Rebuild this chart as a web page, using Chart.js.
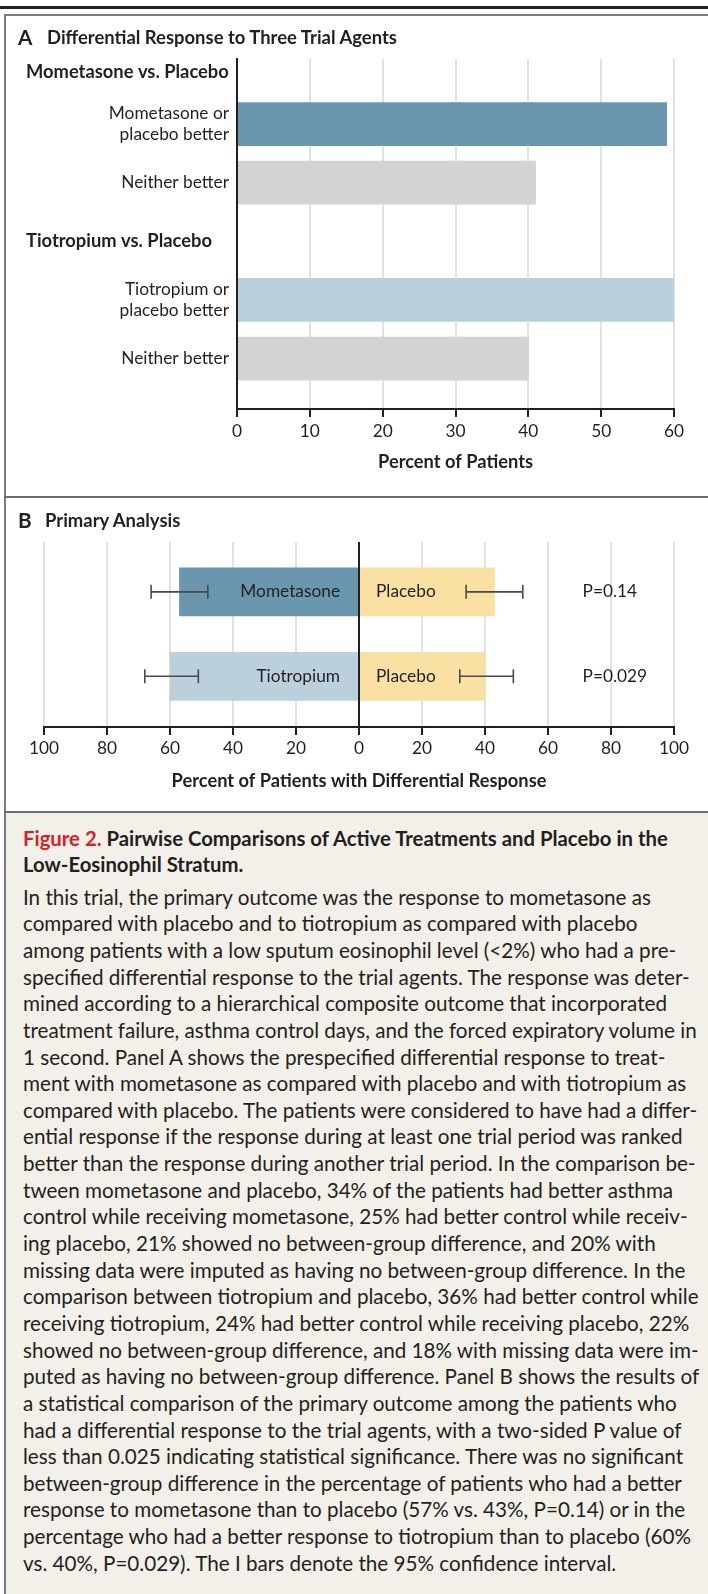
<!DOCTYPE html>
<html><head><meta charset="utf-8">
<script src="https://cdn.jsdelivr.net/npm/chart.js@4.4.1/dist/chart.umd.min.js"></script>
<style>
html,body{margin:0;padding:0;background:#fff;}
body{width:708px;height:1594px;position:relative;overflow:hidden;color:#231f20;}
.abs{position:absolute;}
.line{position:absolute;white-space:pre;font-variant-ligatures:no-common-ligatures;}
</style>
</head><body>
<div class="abs" style="left:6px;top:813px;width:702px;height:781px;background:#f3f0ea;"></div>
<div class="abs" style="left:0;top:0;width:708px;height:496px;"><canvas id="cA" width="708" height="496"></canvas></div>
<div class="abs" style="left:0;top:497px;width:708px;height:315px;"><canvas id="cB" width="708" height="315"></canvas></div>
<div class="abs" style="left:0;top:6px;width:708px;height:3px;background:#231f20;"></div>
<div class="abs" style="left:4px;top:14px;width:704px;height:2px;background:#7b7b7b;"></div>
<div class="abs" style="left:4px;top:14px;width:2px;height:1580px;background:#7b7b7b;"></div>
<div class="abs" style="left:4px;top:496px;width:704px;height:2px;background:#6d6d6d;"></div>
<div class="abs" style="left:4px;top:811px;width:704px;height:2px;background:#6d6d6d;"></div>
<div id="titleA"></div>
<div id="titleB"></div>
<div id="caption"></div>
<script>
// ---------- DATA ----------
const panelTitleA = 'Differential Response to Three Trial Agents';
const panelTitleB = 'Primary Analysis';
const categoriesA = [['Mometasone vs. Placebo'], ['Mometasone or', 'placebo better'], ['Neither better'],
                     ['Tiotropium vs. Placebo'], ['Tiotropium or', 'placebo better'], ['Neither better']];
const valuesA = [null, 59, 41, null, 60, 40];
const xTicksA = [0, 10, 20, 30, 40, 50, 60];
const axisTitleA = 'Percent of Patients';

const activeNamesB = ['Mometasone', 'Tiotropium'];
const controlNameB = 'Placebo';
const activePctB = [57, 60];
const placeboPctB = [43, 40];
const activeCIB = [[48, 66], [51, 68]];
const placeboCIB = [[34, 52], [32, 49]];
const pValuesB = ['P=0.14', 'P=0.029'];
const xTicksB = [-100, -80, -60, -40, -20, 0, 20, 40, 60, 80, 100];
const axisTitleB = 'Percent of Patients with Differential Response';

const captionHead = ['Pairwise Comparisons of Active Treatments and Placebo in the', 'Low-Eosinophil Stratum.'];
const captionLabel = 'Figure 2.';
const captionBody = [
'In this trial, the primary outcome was the response to mometasone as',
'compared with placebo and to tiotropium as compared with placebo',
'among patients with a low sputum eosinophil level (<2%) who had a pre-',
'specified differential response to the trial agents. The response was deter-',
'mined according to a hierarchical composite outcome that incorporated',
'treatment failure, asthma control days, and the forced expiratory volume in',
'1 second. Panel A shows the prespecified differential response to treat-',
'ment with mometasone as compared with placebo and with tiotropium as',
'compared with placebo. The patients were considered to have had a differ-',
'ential response if the response during at least one trial period was ranked',
'better than the response during another trial period. In the comparison be-',
'tween mometasone and placebo, 34% of the patients had better asthma',
'control while receiving mometasone, 25% had better control while receiv-',
'ing placebo, 21% showed no between-group difference, and 20% with',
'missing data were imputed as having no between-group difference. In the',
'comparison between tiotropium and placebo, 36% had better control while',
'receiving tiotropium, 24% had better control while receiving placebo, 22%',
'showed no between-group difference, and 18% with missing data were im-',
'puted as having no between-group difference. Panel B shows the results of',
'a statistical comparison of the primary outcome among the patients who',
'had a differential response to the trial agents, with a two-sided P value of',
'less than 0.025 indicating statistical significance. There was no significant',
'between-group difference in the percentage of patients who had a better',
'response to mometasone than to placebo (57% vs. 43%, P=0.14) or in the',
'percentage who had a better response to tiotropium than to placebo (60%',
'vs. 40%, P=0.029). The I bars denote the 95% confidence interval.'
];

// ---------- STYLE ----------
const FAM = 'Lato, "Liberation Sans", sans-serif';
const INK = '#231f20';
const GRID = '#e2e2e2';
const barColorA = {1: '#6a97ad', 2: '#d1d3d4', 4: '#bccfdc', 5: '#d1d3d4'};
const activeColorB = ['#6a97ad', '#bccfdc'];
const placeboColorB = '#f9e0a3';

const mctx = document.createElement('canvas').getContext('2d');
function fit(text, weight, target) {
  mctx.font = weight + ' 100px ' + FAM;
  return 100 * target / mctx.measureText(text).width;
}
const tickSize = (fit('Mometasone or', 'normal', 122) + fit('Neither better', 'normal', 105) + fit('Mometasone', 'normal', 101)) / 3;
const headSize = fit('Mometasone vs. Placebo', 'bold', 203);
const axisTitleSize = (fit(axisTitleB, 'bold', 380) + fit(axisTitleA, 'bold', 153)) / 2;
const panelTitleSize = fit(panelTitleA, 'bold', 352);
const bodySize = fit(captionBody[5], 'normal', 675);
const capHeadSize = fit(captionLabel + ' ' + captionHead[0], 'bold', 647);

// titles
function panelTitle(el, letter, text, cy) {
  el.innerHTML = '';
  const a = document.createElement('div');
  a.className = 'line';
  a.style.cssText = `left:18px;top:${cy - 12}px;font:bold ${panelTitleSize * 1.12}px ${FAM};line-height:24px;color:${INK};`;
  a.textContent = letter;
  const t = document.createElement('div');
  t.className = 'line';
  t.style.cssText = `left:${letter === 'A' ? 47 : 45}px;top:${cy - 12}px;font:bold ${panelTitleSize}px ${FAM};line-height:24px;color:${INK};`;
  t.textContent = text;
  el.appendChild(a); el.appendChild(t);
}
panelTitle(document.getElementById('titleA'), 'A', panelTitleA, 37);
panelTitle(document.getElementById('titleB'), 'B', panelTitleB, 520);

// caption
(function () {
  const cap = document.getElementById('caption');
  const h1 = document.createElement('div');
  h1.className = 'line';
  h1.style.cssText = `left:23px;top:825px;font:bold ${capHeadSize}px ${FAM};line-height:26px;color:${INK};`;
  h1.innerHTML = '<span style="color:#d3222a">' + captionLabel + '</span> ' + captionHead[0] + '<br>' + captionHead[1];
  cap.appendChild(h1);
  const b = document.createElement('div');
  b.className = 'line';
  b.style.cssText = `left:23px;top:883.7px;font:normal ${bodySize}px ${FAM};line-height:26.64px;color:${INK};`;
  b.textContent = captionBody.join('\n');
  cap.appendChild(b);
})();

// ---------- CHART A ----------
const headerPluginA = {
  id: 'headersA',
  afterDraw(chart) {
    const {ctx, chartArea} = chart;
    const ys = chart.scales.y;
    ctx.save();
    ctx.font = `bold ${headSize}px ${FAM}`;
    ctx.fillStyle = INK;
    ctx.textAlign = 'left';
    ctx.textBaseline = 'middle';
    valuesA.forEach((v, i) => {
      if (v !== null) return;
      const y = Math.max(ys.getPixelForValue(i), chartArea.top + 13);
      ctx.fillText(categoriesA[i].join(' '), 26, y);
    });
    ctx.restore();
  }
};

new Chart(document.getElementById('cA'), {
  type: 'bar',
  data: {
    datasets: [{
      data: valuesA.map((v, i) => ({x: v, y: i})).filter(d => d.x !== null),
      backgroundColor: c => barColorA[c.raw.y],
      borderWidth: 0,
      barThickness: 43
    }]
  },
  options: {
    indexAxis: 'y', responsive: false, animation: false, devicePixelRatio: 1,
    layout: {padding: {top: 59, right: 34, left: 0, bottom: 0}},
    plugins: {legend: {display: false}, tooltip: {enabled: false}},
    scales: {
      x: {
        type: 'linear', min: 0, max: 60, position: 'bottom',
        afterBuildTicks: s => { s.ticks = xTicksA.map(v => ({value: v})); },
        ticks: {font: {family: FAM, size: tickSize}, color: INK, padding: 4, maxRotation: 0, autoSkip: false},
        grid: {color: c => (c.tick && c.tick.value === 0) ? INK : GRID, lineWidth: 2, tickColor: INK, tickWidth: 2, tickLength: 8},
        border: {display: true, color: INK, width: 2},
        title: {display: true, text: axisTitleA, color: INK, font: {family: FAM, size: axisTitleSize, weight: 'bold'},
                padding: {top: 0, bottom: 33.5 - axisTitleSize * 0.6}},
        afterFit: s => { s.height = 87; s.paddingLeft = 0; s.paddingRight = 0; }
      },
      y: {
        type: 'linear', reverse: true, offset: false, min: -0.11, max: 5.86,
        afterBuildTicks: s => { s.ticks = valuesA.map((v, i) => v === null ? null : {value: i}).filter(Boolean); },
        ticks: {callback: v => categoriesA[v], font: {family: FAM, size: tickSize, lineHeight: 1.18}, color: INK, padding: 8, autoSkip: false},
        grid: {display: false, drawTicks: false},
        border: {display: true, color: INK, width: 2, z: 1},
        afterFit: s => { s.width = 237; s.paddingTop = 0; s.paddingBottom = 0; }
      }
    }
  },
  plugins: [headerPluginA]
});

// ---------- CHART B ----------
const overlayB = {
  id: 'overlayB',
  afterDatasetsDraw(chart) {
    const {ctx, chartArea} = chart;
    const xs = chart.scales.x, ys = chart.scales.y;
    const x0 = xs.getPixelForValue(0);
    ctx.save();
    ctx.strokeStyle = INK; ctx.lineWidth = 2;
    ctx.beginPath(); ctx.moveTo(Math.round(x0), chartArea.top); ctx.lineTo(Math.round(x0), chartArea.bottom); ctx.stroke();
    ctx.strokeStyle = '#4a4a4a'; ctx.lineWidth = 1.6;
    const drawCI = (a, b, y) => {
      const xa = xs.getPixelForValue(a), xb = xs.getPixelForValue(b);
      ctx.beginPath();
      ctx.moveTo(xa, y); ctx.lineTo(xb, y);
      ctx.moveTo(xa, y - 7); ctx.lineTo(xa, y + 7);
      ctx.moveTo(xb, y - 7); ctx.lineTo(xb, y + 7);
      ctx.stroke();
    };
    activeNamesB.forEach((name, i) => {
      const y = ys.getPixelForValue(i);
      drawCI(-activeCIB[i][1], -activeCIB[i][0], y);
      drawCI(placeboCIB[i][0], placeboCIB[i][1], y);
      ctx.fillStyle = INK;
      ctx.font = `normal ${tickSize}px ${FAM}`;
      ctx.textBaseline = 'middle';
      ctx.textAlign = 'right';
      ctx.fillText(name, x0 - 19, y);
      ctx.textAlign = 'left';
      ctx.fillText(controlNameB, x0 + 17, y);
      ctx.fillText(pValuesB[i], chartArea.right - 91.5, y);
    });
    ctx.restore();
  }
};

new Chart(document.getElementById('cB'), {
  type: 'bar',
  data: {
    datasets: [
      {data: activePctB.map((v, i) => ({x: -v, y: i})), backgroundColor: c => activeColorB[c.raw.y], borderWidth: 0, barThickness: 48},
      {data: placeboPctB.map((v, i) => ({x: v, y: i})), backgroundColor: placeboColorB, borderWidth: 0, barThickness: 48}
    ]
  },
  options: {
    indexAxis: 'y', responsive: false, animation: false, devicePixelRatio: 1,
    layout: {padding: {top: 45, right: 34, left: 44, bottom: 0}},
    plugins: {legend: {display: false}, tooltip: {enabled: false}},
    scales: {
      x: {
        type: 'linear', min: -100, max: 100, stacked: true,
        afterBuildTicks: s => { s.ticks = xTicksB.map(v => ({value: v})); },
        ticks: {callback: v => String(Math.abs(v)), font: {family: FAM, size: tickSize}, color: INK, padding: 3, maxRotation: 0, autoSkip: false},
        grid: {color: GRID, lineWidth: 2, tickColor: INK, tickWidth: 2, tickLength: 8},
        border: {display: true, color: INK, width: 2},
        title: {display: true, text: axisTitleB, color: INK, font: {family: FAM, size: axisTitleSize, weight: 'bold'},
                padding: {top: 0, bottom: 31 - axisTitleSize * 0.6}},
        afterFit: s => { s.height = 85; s.paddingLeft = 0; s.paddingRight = 0; }
      },
      y: {type: 'linear', reverse: true, offset: false, min: -0.59, max: 1.6, stacked: true, display: false}
    }
  },
  plugins: [overlayB]
});
</script>
</body></html>
